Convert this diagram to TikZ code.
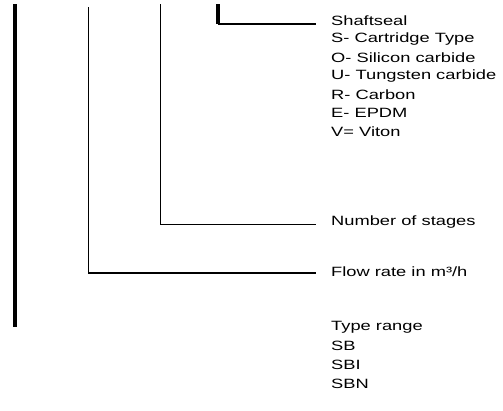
\documentclass[tikz,border=0pt]{standalone}
\usepackage{fontspec}
\setmainfont[FakeStretch=1.36]{Liberation Sans}
\usetikzlibrary{positioning}
\begin{document}
\begin{tikzpicture}[x=1bp,y=-1bp,
    lbl/.style={anchor=west,inner sep=0pt,font=\fontsize{13.5}{15}\selectfont},
    lead/.style={line width=1.3bp,shorten >=15bp},
    thick bar/.style={line width=4bp}]
  \useasboundingbox (0,0) rectangle (503,410);
  % labels
  \node[lbl] (shaft) at (331,20.5) {Shaftseal};
  \node[lbl] (cart) at (331,39) {S- Cartridge Type};
  \node[lbl] (sic) at (331,57.5) {O- Silicon carbide};
  \node[lbl] (tc) at (331,76) {U- Tungsten carbide};
  \node[lbl] (carbon) at (331,94.5) {R- Carbon};
  \node[lbl] (epdm) at (331,113) {E- EPDM};
  \node[lbl] (viton) at (331,131.5) {V= Viton};
  \node[lbl] (stages) at (331,222.5) {Number of stages};
  \node[lbl] (flow) at (331,271.5) {Flow rate in m³/h};
  \node[lbl] (range) at (331,327) {Type range};
  \node[lbl] (sb) at (331,346) {SB};
  \node[lbl] (sbi) at (331,365) {SBI};
  \node[lbl] (sbn) at (331,384) {SBN};
  % leaders
  \coordinate (bartop) at (15,4);
  \coordinate (barbot) at (15,327);
  \coordinate (flowtop) at (88.3,7);
  \coordinate (stagetop) at (160.7,4);
  \coordinate (sealtop) at (218.3,4);
  \coordinate (sealknee) at (218.3,24);
  \draw[thick bar] (bartop) -- (barbot);
  \draw[lead] (flowtop) |- (flow.west |- 0,273);
  \draw[lead] (stagetop) |- (stages.west |- 0,224.5);
  \draw[thick bar] (sealtop) -- (sealknee);
  \draw[lead] (sealknee) -- (shaft.west |- sealknee);
\end{tikzpicture}
\end{document}
